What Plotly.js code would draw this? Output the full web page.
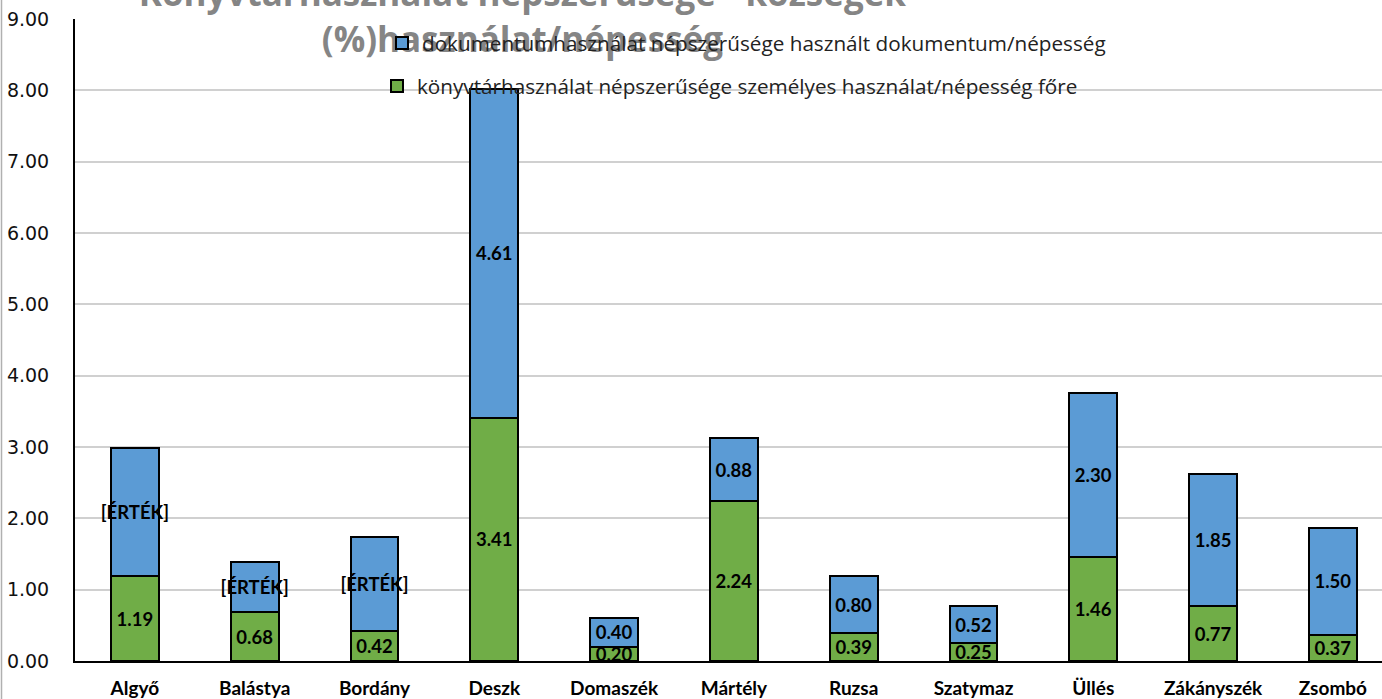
<!DOCTYPE html>
<html>
<head>
<meta charset="utf-8">
<script src="https://cdn.plot.ly/plotly-3.0.1.min.js"></script>
<style>html,body{margin:0;padding:0;background:#fff;}#chart{width:1382px;height:699px;}</style>
</head>
<body>
<div id="chart"></div>
<script>
var categories = ["Algyő","Balástya","Bordány","Deszk","Domaszék","Mártély","Ruzsa","Szatymaz","Üllés","Zákányszék","Zsombó"];
var personalUse = [1.19, 0.68, 0.42, 3.41, 0.20, 2.24, 0.39, 0.25, 1.46, 0.77, 0.37];
var documentUse = [1.80, 0.71, 1.32, 4.61, 0.40, 0.88, 0.80, 0.52, 2.30, 1.85, 1.50];
var documentLabels = ["[ÉRTÉK]","[ÉRTÉK]","[ÉRTÉK]","4.61","0.40","0.88","0.80","0.52","2.30","1.85","1.50"];
var personalLabels = personalUse.map(function(v){return v.toFixed(2);});
var yTickVals = [0,1,2,3,4,5,6,7,8,9];
var yTickText = ["0.00","1.00","2.00","3.00","4.00","5.00","6.00","7.00","8.00","9.00"];
var seriesNames = ["könyvtárhasználat népszerűsége személyes használat/népesség főre",
                   "dokumentumhasználat népszerűsége használt dokumentum/népesség"];
var titleText = "Könyvtárhasználat népszerűsége - községek<br>(%)használat/népesség";

var labelFont = {family: "Lato, 'Open Sans', sans-serif", size: 18.5, color: "#000", weight: 700};
var traces = [
  {type: "bar", name: seriesNames[0], x: categories, y: personalUse, width: 0.4,
   marker: {color: "#70AD47", line: {color: "#000", width: 2}},
   text: personalLabels, textposition: "inside", insidetextanchor: "middle", textangle: 0,
   constraintext: "none", textfont: labelFont, hoverinfo: "x+y", legend: "legend2"},
  {type: "bar", name: seriesNames[1], x: categories, y: documentUse, width: 0.4,
   marker: {color: "#5B9BD5", line: {color: "#000", width: 2}},
   text: documentLabels, textposition: "inside", insidetextanchor: "middle", textangle: 0,
   constraintext: "none", textfont: labelFont, hoverinfo: "x+y", legend: "legend"}
];
var legendFont = {family: "'Open Sans', sans-serif", size: 20.7, color: "#222"};
var layout = {
  width: 1382, height: 699,
  margin: {l: 75, r: 0, t: 19, b: 38},
  paper_bgcolor: "#fff", plot_bgcolor: "#fff",
  barmode: "stack",
  showlegend: true,
  title: {text: titleText, font: {family: "'Open Sans', sans-serif", size: 35, color: "#858585", weight: 700},
          x: 0.378, xanchor: "center", xref: "container", y: 0.991, yanchor: "bottom", yref: "container"},
  legend: {x: (382 - 75) / 1307, xanchor: "left", y: 1 - (43 - 19) / 642, yanchor: "middle",
           bgcolor: "rgba(0,0,0,0)", borderwidth: 0, font: legendFont},
  legend2: {x: (377 - 75) / 1307, xanchor: "left", y: 1 - (86 - 19) / 642, yanchor: "middle",
           bgcolor: "rgba(0,0,0,0)", borderwidth: 0, font: legendFont},
  xaxis: {range: [-0.5, 10.41], type: "category", showline: true, linecolor: "#000", linewidth: 2,
          ticks: "", ticklabelstandoff: 9, showgrid: false, zeroline: false,
          tickfont: {family: "Lato, sans-serif", size: 19, color: "#000", weight: 700}},
  yaxis: {range: [0, 9], tickvals: yTickVals, ticktext: yTickText, showline: true, linecolor: "#000", linewidth: 2,
          ticks: "", ticklabelstandoff: 20, showgrid: true, gridcolor: "#d0d0d0", gridwidth: 2, zeroline: false,
          tickfont: {family: "'DejaVu Sans', sans-serif", size: 19, color: "#111"}},
  shapes: [{type: "line", xref: "paper", yref: "paper", x0: -73.5/1307, x1: -73.5/1307, y0: -38/642, y1: 1 + 19/642,
            line: {color: "#b0b0b0", width: 1.5}}]
};
Plotly.newPlot("chart", traces, layout, {displayModeBar: false, staticPlot: true}).then(function(gd){
  // keep the legend drawn above the title, as in the original
  var info = gd.querySelector(".infolayer");
  if (info) {
    gd.querySelectorAll(".infolayer > .legend, .infolayer > .legend2").forEach(function(n){ info.appendChild(n); });
    gd.querySelectorAll(".infolayer > g").forEach(function(n){
      if (/legend/.test(n.getAttribute("class") || "")) info.appendChild(n);
    });
  }
});
</script>
</body>
</html>
